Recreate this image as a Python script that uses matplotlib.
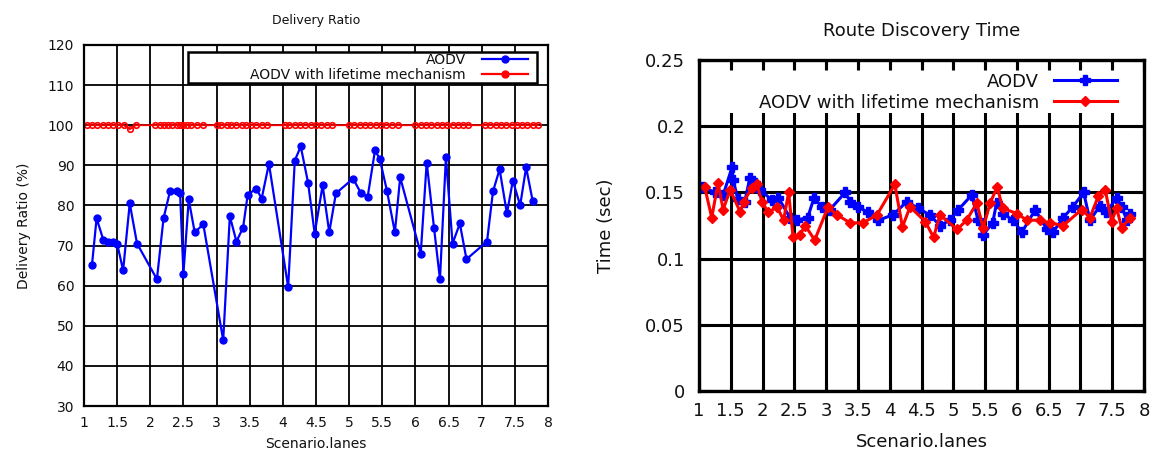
import matplotlib
matplotlib.use('Agg')
import matplotlib.pyplot as plt
from matplotlib.patches import Rectangle
from matplotlib.lines import Line2D

# ---------------- data ----------------
x_ticks = [1, 1.5, 2, 2.5, 3, 3.5, 4, 4.5, 5, 5.5, 6, 6.5, 7, 7.5, 8]
x_ticklabels = ['1', '1.5', '2', '2.5', '3', '3.5', '4', '4.5', '5', '5.5',
                '6', '6.5', '7', '7.5', '8']

dr_yticks = [30, 40, 50, 60, 70, 80, 90, 100, 110, 120]
dr_yticklabels = ['30', '40', '50', '60', '70', '80', '90', '100', '110', '120']

rd_yticks = [0, 0.05, 0.1, 0.15, 0.2, 0.25]
rd_yticklabels = ['0', '0.05', '0.1', '0.15', '0.2', '0.25']

# Delivery ratio - AODV
dr_aodv_x = [1.12, 1.19, 1.29, 1.36, 1.43, 1.5, 1.59, 1.69, 1.8, 2.1, 2.2, 2.3,
             2.4, 2.45, 2.5, 2.58, 2.67, 2.8, 3.1, 3.2, 3.3, 3.4, 3.47, 3.6,
             3.68, 3.79, 4.08, 4.18, 4.27, 4.38, 4.48, 4.6, 4.7, 4.8, 5.06,
             5.18, 5.28, 5.39, 5.46, 5.57, 5.69, 5.77, 6.08, 6.17, 6.28, 6.37,
             6.46, 6.56, 6.67, 6.77, 7.08, 7.17, 7.27, 7.38, 7.47, 7.58, 7.67,
             7.77]
dr_aodv_y = [65.1, 76.8, 71.5, 71.0, 70.8, 70.5, 63.8, 80.5, 70.5, 61.6, 76.8,
             83.7, 83.7, 83.0, 63.0, 81.5, 73.3, 75.3, 46.4, 77.3, 71.0, 74.5,
             82.7, 84.2, 81.7, 90.4, 59.6, 91.2, 94.7, 85.7, 73.0, 85.0, 73.3,
             83.0, 86.7, 83.0, 82.2, 93.7, 91.7, 83.7, 73.3, 87.0, 68.0, 90.7,
             74.5, 61.6, 92.0, 70.5, 75.5, 66.6, 71.0, 83.5, 89.0, 78.0, 86.2,
             80.0, 89.5, 81.0]

# Delivery ratio - AODV with lifetime mechanism
dr_life_x = [1.05, 1.12, 1.2, 1.28, 1.36, 1.44, 1.52, 1.6, 1.69, 1.78,
             2.07, 2.14, 2.2, 2.27, 2.33, 2.4, 2.45, 2.5, 2.55, 2.62, 2.7, 2.8,
             3.0, 3.07, 3.15, 3.22, 3.3, 3.38, 3.45, 3.52, 3.6, 3.68, 3.76,
             4.03, 4.1, 4.18, 4.26, 4.34, 4.42, 4.5, 4.58, 4.66, 4.74,
             5.0, 5.08, 5.16, 5.24, 5.32, 5.4, 5.48, 5.56, 5.64, 5.74,
             6.0, 6.08, 6.16, 6.24, 6.32, 6.4, 6.48, 6.56, 6.64, 6.72, 6.8,
             7.05, 7.13, 7.21, 7.29, 7.37, 7.45, 7.53, 7.61, 7.69, 7.77, 7.85]
dr_life_y = [100, 100, 100, 100, 100, 100, 100, 100, 99, 100,
             100, 100, 100, 100, 100, 100, 100, 100, 100, 100, 100, 100,
             100, 100, 100, 100, 100, 100, 100, 100, 100, 100, 100,
             100, 100, 100, 100, 100, 100, 100, 100, 100, 100,
             100, 100, 100, 100, 100, 100, 100, 100, 100, 100,
             100, 100, 100, 100, 100, 100, 100, 100, 100, 100, 100,
             100, 100, 100, 100, 100, 100, 100, 100, 100, 100, 100]

# Route discovery time - AODV
rd_aodv_x = [1.06, 1.25, 1.38, 1.52, 1.54, 1.61, 1.72, 1.8, 1.88, 1.96, 2.15,
             2.25, 2.43, 2.54, 2.71, 2.81, 2.93, 3.06, 3.3, 3.38, 3.5, 3.66,
             3.82, 4.05, 4.27, 4.45, 4.63, 4.79, 4.95, 5.08, 5.29, 5.39, 5.47,
             5.62, 5.68, 5.78, 5.94, 6.08, 6.29, 6.47, 6.57, 6.73, 6.88, 7.05,
             7.15, 7.31, 7.41, 7.57, 7.65, 7.73, 7.78]
rd_aodv_y = [0.154, 0.150, 0.148, 0.169, 0.159, 0.145, 0.143, 0.161, 0.157,
             0.152, 0.144, 0.146, 0.131, 0.129, 0.131, 0.146, 0.139, 0.137,
             0.150, 0.143, 0.139, 0.135, 0.129, 0.133, 0.143, 0.138, 0.133,
             0.125, 0.129, 0.137, 0.148, 0.129, 0.118, 0.127, 0.142, 0.134,
             0.129, 0.120, 0.137, 0.122, 0.120, 0.131, 0.139, 0.150, 0.129,
             0.140, 0.135, 0.146, 0.139, 0.129, 0.134]

# Route discovery time - AODV with lifetime mechanism
rd_life_x = [1.09, 1.2, 1.3, 1.38, 1.49, 1.65, 1.7, 1.83, 1.91, 1.99, 2.09,
             2.23, 2.33, 2.41, 2.48, 2.59, 2.67, 2.82, 3.03, 3.17, 3.38, 3.58,
             3.8, 4.08, 4.2, 4.32, 4.56, 4.69, 4.79, 5.06, 5.21, 5.37, 5.47,
             5.58, 5.69, 5.78, 6.0, 6.16, 6.36, 6.52, 6.73, 7.02, 7.15, 7.28,
             7.39, 7.49, 7.57, 7.65, 7.78]
rd_life_y = [0.154, 0.131, 0.157, 0.137, 0.152, 0.135, 0.143, 0.153, 0.156,
             0.143, 0.135, 0.139, 0.129, 0.150, 0.116, 0.118, 0.125, 0.114,
             0.139, 0.133, 0.127, 0.127, 0.133, 0.156, 0.124, 0.139, 0.128,
             0.116, 0.133, 0.122, 0.129, 0.142, 0.123, 0.142, 0.154, 0.138,
             0.134, 0.129, 0.129, 0.127, 0.125, 0.137, 0.131, 0.147, 0.152,
             0.128, 0.138, 0.123, 0.131]

# ---------------- figure ----------------
W, H = 1154, 453
fig = plt.figure(figsize=(W / 100, H / 100), dpi=100)
txt = '#111111'


def px_axes(l, r, t, b):
    return [l / W, 1 - b / H, (r - l) / W, (b - t) / H]


def right_align_legend(leg):
    for col in leg._legend_handle_box.get_children():
        col.align = 'right'


# ---------- left: Delivery Ratio ----------
fsL = 10
ax1 = fig.add_axes(px_axes(84, 548, 45, 406))
for xv in x_ticks:
    ax1.axvline(xv, color='black', lw=1.3, zorder=1)
for yv in dr_yticks:
    ax1.axhline(yv, color='black', lw=1.3, zorder=1)
ax1.plot(dr_aodv_x, dr_aodv_y, color='#0000ff', lw=1.6, marker='o',
         ms=5, zorder=3)
ax1.plot(dr_life_x, dr_life_y, color='#ff0000', lw=1.3, marker='o',
         ms=4, mfc='none', mew=1.2, zorder=3)
ax1.set_xlim(1, 8)
ax1.set_ylim(30, 120)
ax1.set_xticks(x_ticks)
ax1.set_xticklabels(x_ticklabels)
ax1.set_yticks(dr_yticks)
ax1.set_yticklabels(dr_yticklabels)
ax1.tick_params(direction='in', length=0, labelsize=fsL, labelcolor=txt,
                pad=7)
ax1.set_axisbelow(False)
for s in ax1.spines.values():
    s.set_linewidth(1.6)
    s.set_zorder(4)
ax1.add_patch(Rectangle((0.224, 0.895), 0.752, 0.085, transform=ax1.transAxes,
                        facecolor='white', edgecolor='black', lw=1.8,
                        zorder=2.6))
h1 = Line2D([], [], color='#0000ff', lw=1.6, marker='o', ms=5)
h2 = Line2D([], [], color='#ff0000', lw=1.6, marker='o', ms=5)
leg1 = ax1.legend([h1, h2], ['AODV', 'AODV with lifetime mechanism'],
                  loc='upper right', bbox_to_anchor=(0.957, 0.978),
                  bbox_transform=ax1.transAxes, frameon=False,
                  markerfirst=False, handlelength=3.3, handletextpad=1.2,
                  labelspacing=0.1, borderpad=0, borderaxespad=0,
                  fontsize=fsL, labelcolor=txt)
leg1.set_zorder(5)
right_align_legend(leg1)
ax1.set_title('Delivery Ratio', fontsize=9, color=txt, pad=15)
ax1.set_xlabel('Scenario.lanes', fontsize=fsL, color=txt, labelpad=5)
ax1.set_ylabel('Delivery Ratio (%)', fontsize=fsL, color=txt, labelpad=12)

# ---------- right: Route Discovery Time ----------
fsR = 13
ax2 = fig.add_axes(px_axes(699, 1144, 60, 391))
for xv in x_ticks:
    ax2.axvline(xv, color='black', lw=2.2, zorder=1)
for yv in rd_yticks:
    ax2.axhline(yv, color='black', lw=2.2, zorder=1)
ax2.plot(rd_aodv_x, rd_aodv_y, color='#0000ff', lw=2.2, marker='P', ms=6.5,
         zorder=3)
ax2.plot(rd_life_x, rd_life_y, color='#ff0000', lw=2.2, marker='D', ms=5,
         zorder=3.1)
ax2.set_xlim(1, 8)
ax2.set_ylim(0, 0.25)
ax2.set_xticks(x_ticks)
ax2.set_xticklabels(x_ticklabels)
ax2.set_yticks(rd_yticks)
ax2.set_yticklabels(rd_yticklabels)
ax2.tick_params(axis='x', direction='in', length=7, width=2.2, top=True,
                labelsize=fsR, labelcolor=txt, pad=8)
ax2.tick_params(axis='y', direction='in', length=7, width=2.2, right=True,
                labelsize=fsR, labelcolor=txt, pad=10)
ax2.set_axisbelow(False)
for s in ax2.spines.values():
    s.set_linewidth(2.4)
    s.set_zorder(4)
ax2.add_patch(Rectangle((0.02, 0.84), 0.965, 0.13, transform=ax2.transAxes,
                        facecolor='white', edgecolor='none', zorder=2.4))
h3 = Line2D([], [], color='#0000ff', lw=2.2, marker='P', ms=7)
h4 = Line2D([], [], color='#ff0000', lw=2.2, marker='D', ms=5.5)
leg2 = ax2.legend([h3, h4], ['AODV', 'AODV with lifetime mechanism'],
                  loc='upper right', bbox_to_anchor=(0.939, 0.962),
                  bbox_transform=ax2.transAxes, frameon=False,
                  markerfirst=False, handlelength=3.5, handletextpad=0.8,
                  labelspacing=0.17, borderpad=0, borderaxespad=0,
                  fontsize=fsR, labelcolor=txt)
leg2.set_zorder(5)
right_align_legend(leg2)
ax2.set_title('Route Discovery Time', fontsize=fsR, color=txt, pad=17)
ax2.set_xlabel('Scenario.lanes', fontsize=fsR, color=txt, labelpad=9)
ax2.set_ylabel('Time (sec)', fontsize=fsR, color=txt, labelpad=22)

fig.savefig('out.png', dpi=100)
